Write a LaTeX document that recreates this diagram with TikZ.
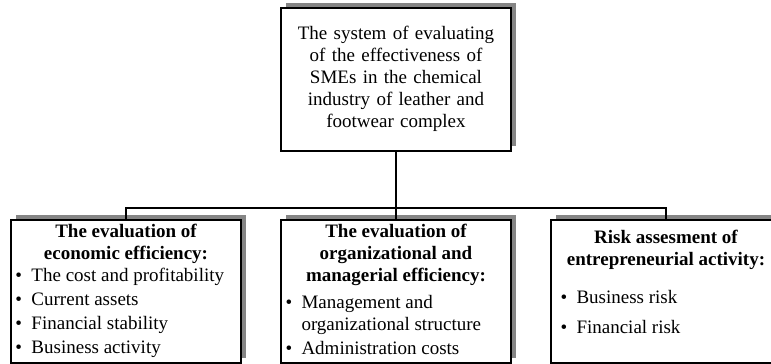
\documentclass[tikz,border=0pt]{standalone}
\usepackage{fontspec}
\setmainfont{Liberation Serif}
\usetikzlibrary{positioning,shadows}

\newcommand{\boxbody}[1]{\parbox[c][134pt][t]{221pt}{\raggedright\setlength{\parskip}{2pt}#1}}
\newcommand{\boxhead}[1]{{\centering\bfseries #1\par}}
\newcommand{\bitem}[2][0pt]{\par\leftskip=#1\hangindent=16pt\hangafter=1\noindent\makebox[16pt][l]{\textbullet}#2}

\begin{document}
\begin{tikzpicture}[
		x=1pt,y=1pt,
		node distance=38pt,
		evalbox/.style={
			draw=black,
			line width=2pt,
			fill=white,
			rectangle,
			minimum width=230pt,
			minimum height=143pt,
			inner xsep=4pt,
			inner ysep=4pt,
			drop shadow={shadow xshift=5pt,shadow yshift=5pt,opacity=1,fill=black!48}
		},
		link/.style={line width=2pt},
		every node/.style={font=\fontsize{19}{22}\selectfont}
		]
		\useasboundingbox (0,0) rectangle (771,-364);
		% System
		\node[evalbox, text width=221pt, align=center] (sys) at (396,-79)
		{The system of evaluating\\of the effectiveness of\\SMEs in the chemical\\industry of leather and\\footwear complex};
		
		% Evaluation groups
		\node[evalbox, below=67pt of sys] (org) {\boxbody{%
				\boxhead{The evaluation of\\organizational and\\managerial efficiency:}
				\vspace{3pt}
				\bitem{Management and\newline organizational structure}
				\bitem{Administration costs}}};
		\node[evalbox, left=of org] (econ) {\boxbody{%
				\boxhead{The evaluation of\\economic efficiency:}
				\vspace{-2pt}
				\bitem{The cost and profitability}
				\bitem{Current assets}
				\bitem{Financial stability}
				\bitem{Business activity}}};
		\node[evalbox, right=of org] (risk) {\boxbody{%
				\vspace{4pt}
				\boxhead{Risk assesment of\\entrepreneurial activity:}
				\vspace{14pt}
				\bitem[5pt]{Business risk}
				\vspace{6pt}
				\bitem[5pt]{Financial risk}}};
		
		% Links
		\draw[link] (sys) -- (org);
		\draw[link] (econ.north) -- ++(0,11) -| (risk.north);
	\end{tikzpicture}
\end{document}
